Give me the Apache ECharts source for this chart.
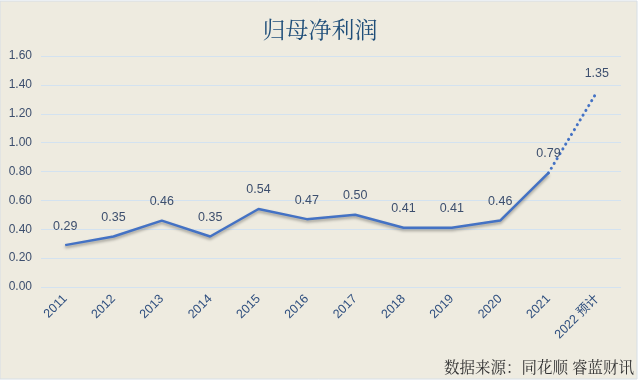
<!DOCTYPE html>
<html><head><meta charset="utf-8">
<script src="https://cdn.jsdelivr.net/npm/echarts@6/dist/echarts.min.js"></script>
<style>html,body{margin:0;padding:0;background:#fff;}#c{width:640px;height:383px;}</style>
</head><body><div id="c"></div>
<script>
var categories = ['2011','2012','2013','2014','2015','2016','2017','2018','2019','2020','2021','2022 预计'];
var actualValues = [0.29,0.35,0.46,0.35,0.54,0.47,0.50,0.41,0.41,0.46,0.79,null];
var forecastValues = [null,null,null,null,null,null,null,null,null,null,0.79,1.35];
var yTicks = [0,0.2,0.4,0.6,0.8,1.0,1.2,1.4,1.6];

var chart = echarts.init(document.getElementById('c'));
var lblColor = '#3d4f6e';
chart.setOption({
  backgroundColor: '#fff',
  graphic: [
    {type:'rect', shape:{x:0,y:1,width:637,height:378}, style:{fill:'#EEEBE0', stroke:'#d6dee6', lineWidth:1}, z:-10}
  ],
  title: {
    text: '归母净利润', left: 'center', top: 13,
    textStyle: {color:'#1f4e79', fontSize: 23, fontWeight:'normal', fontFamily:'Noto Serif CJK SC, Noto Sans CJK SC, serif'}
  },
  grid: {left: 41, right: 19, top: 56, bottom: 96, containLabel:false},
  xAxis: {
    type:'category', data: categories, boundaryGap: true,
    axisLine:{show:false}, axisTick:{show:false},
    axisLabel:{rotate:45, color: '#2f4f7f', fontSize:12.5, fontFamily:'Liberation Sans, Noto Sans CJK SC, sans-serif', margin:10, interval:0}
  },
  yAxis: {
    type:'value', min:0, max:1.6, interval:0.2,
    axisLine:{show:false}, axisTick:{show:false},
    axisLabel:{color: lblColor, fontSize:12, margin:9, formatter: function(v){return v.toFixed(2);}},
    splitLine:{lineStyle:{color:'#d3e2f0', width:1}}
  },
  series: [
    {
      type:'line', data: actualValues, symbol:'circle', symbolSize:1, showSymbol:true, smooth:false,
      itemStyle:{color:'rgba(68,114,196,0)'},
      lineStyle:{color:'#4472c4', width:2.5, shadowColor:'rgba(0,0,0,0.35)', shadowBlur:3, shadowOffsetY:2},
      label:{show:true, position:'top', distance:12, color: lblColor, fontSize:12.5, formatter:function(p){return p.value==null?'':p.value.toFixed(2);}},
      z:3
    },
    {
      type:'line', data: forecastValues, symbol:'circle', symbolSize:1, showSymbol:true, smooth:0.25,
      itemStyle:{color:'rgba(68,114,196,0)'},
      lineStyle:{color:'#4472c4', width:3, type:[0.1,5.5], cap:'round'},
      label:{show:true, position:'top', distance:12, color: lblColor, fontSize:12.5, formatter:function(p){return p.dataIndex===11? p.value.toFixed(2):'';}},
      z:2
    }
  ]
});
</script>
<div style="position:absolute;right:6px;top:355px;font-family:'Noto Serif CJK SC','Noto Sans CJK SC',serif;font-size:15.5px;color:#333;white-space:nowrap;">数据来源：同花顺 睿蓝财讯</div>
</body></html>
